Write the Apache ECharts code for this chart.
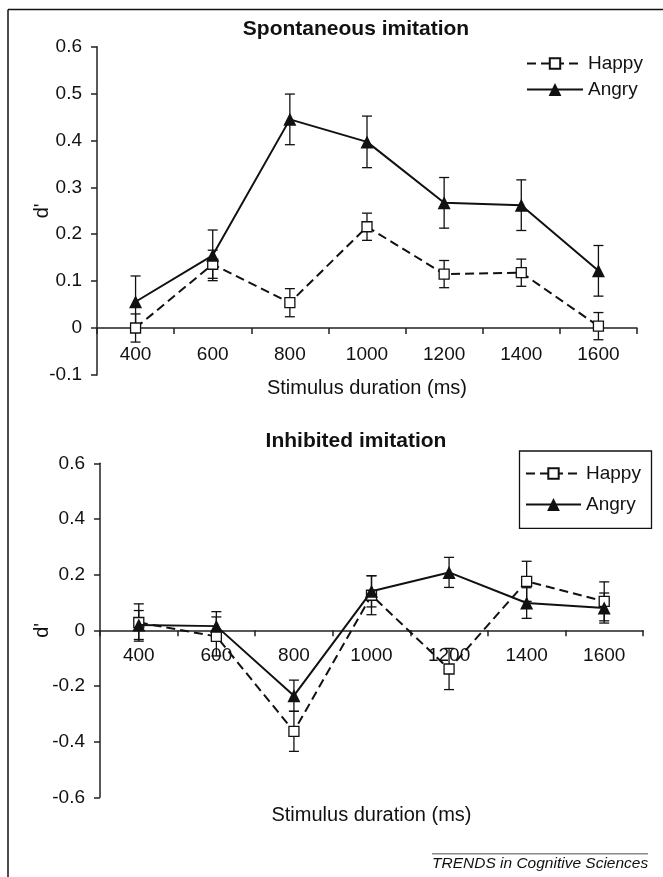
<!DOCTYPE html>
<html>
<head>
<meta charset="utf-8">
<script src="https://cdn.jsdelivr.net/npm/echarts@6/dist/echarts.min.js"></script>
<style>
html,body{margin:0;padding:0;background:#fff;}
#chart{width:663px;height:877px;}
</style>
</head>
<body>
<div id="chart"></div>
<script>
const categories = ['400', '600', '800', '1000', '1200', '1400', '1600'];

const spontHappy    = [0.000, 0.136, 0.054, 0.216, 0.115, 0.118, 0.004];
const spontHappyErr = [0.030, 0.030, 0.030, 0.029, 0.029, 0.029, 0.029];
const spontAngry    = [0.056, 0.155, 0.445, 0.397, 0.267, 0.262, 0.122];
const spontAngryErr = [0.055, 0.054, 0.054, 0.055, 0.054, 0.054, 0.054];

const inhibHappy    = [0.028, -0.022, -0.363, 0.126, -0.139, 0.176, 0.104];
const inhibHappyErr = [0.067, 0.070, 0.072, 0.070, 0.074, 0.072, 0.070];
const inhibAngry    = [0.019, 0.015, -0.235, 0.140, 0.208, 0.098, 0.080];
const inhibAngryErr = [0.052, 0.052, 0.056, 0.056, 0.054, 0.055, 0.054];

const titles = ['Spontaneous imitation', 'Inhibited imitation'];
const xName = 'Stimulus duration (ms)';
const yName = "d'";
const seriesNames = ['Happy', 'Angry'];

const FONT = '"Liberation Sans", Arial, Helvetica, sans-serif';
const INK = '#111';

function errData(vals, errs) {
  return vals.map((v, i) => [i, v - errs[i], v + errs[i]]);
}
function errRender(params, api) {
  const x = api.value(0);
  const lo = api.coord([x, api.value(1)]);
  const hi = api.coord([x, api.value(2)]);
  const w = 5;
  const st = { stroke: INK, lineWidth: 1.3, fill: null };
  return {
    type: 'group',
    children: [
      { type: 'line', shape: { x1: lo[0], y1: lo[1], x2: hi[0], y2: hi[1] }, style: st },
      { type: 'line', shape: { x1: lo[0] - w, y1: lo[1], x2: lo[0] + w, y2: lo[1] }, style: st },
      { type: 'line', shape: { x1: hi[0] - w, y1: hi[1], x2: hi[0] + w, y2: hi[1] }, style: st }
    ]
  };
}

const axisLineStyle = { color: '#222', width: 1.5 };
const labelStyle = { color: INK, fontSize: 19, fontFamily: FONT };

function xAxisDef(gridIndex, margin, nameGap) {
  return {
    type: 'category', gridIndex, data: categories, boundaryGap: true,
    axisLine: { onZero: true, lineStyle: axisLineStyle },
    axisTick: { show: true, inside: false, length: 6, lineStyle: axisLineStyle, alignWithLabel: false },
    axisLabel: Object.assign({ margin, interval: 0 }, labelStyle),
    splitLine: { show: false },
    name: xName, nameLocation: 'middle', nameGap, nameMoveOverlap: false,
    nameTextStyle: { color: INK, fontSize: 20, fontFamily: FONT }
  };
}
function yAxisDef(gridIndex, min, max, interval, nameGap) {
  return {
    type: 'value', gridIndex, min, max, interval,
    axisLine: { show: true, lineStyle: axisLineStyle },
    axisTick: { show: true, inside: false, length: 6, lineStyle: axisLineStyle },
    axisLabel: Object.assign({ margin: 15 }, labelStyle),
    splitLine: { show: false },
    name: yName, nameLocation: 'middle', nameGap, nameRotate: 90, nameMoveOverlap: false,
    nameTextStyle: { color: INK, fontSize: 20, fontFamily: FONT }
  };
}

function happySeries(idx, data) {
  return {
    name: seriesNames[0], type: 'line', xAxisIndex: idx, yAxisIndex: idx, data,
    symbol: 'rect', symbolSize: 10, z: 3,
    lineStyle: { color: INK, width: 2, type: [9, 5] },
    itemStyle: { color: '#fff', borderColor: INK, borderWidth: 1.3 }
  };
}
function angrySeries(idx, data) {
  return {
    name: seriesNames[1], type: 'line', xAxisIndex: idx, yAxisIndex: idx, data,
    symbol: 'triangle', symbolSize: 13, z: 4,
    lineStyle: { color: INK, width: 2, type: 'solid' },
    itemStyle: { color: INK, borderColor: INK, borderWidth: 0 }
  };
}
function errSeries(idx, vals, errs) {
  return {
    name: 'err', type: 'custom', xAxisIndex: idx, yAxisIndex: idx,
    data: errData(vals, errs), renderItem: errRender, z: 2,
    encode: { x: 0, y: [1, 2] }, silent: true
  };
}
function legendDef(name, left, top, w, h) {
  return {
    data: [name], left, top, orient: 'vertical', itemWidth: w, itemHeight: h,
    itemGap: 0, padding: 0, selectedMode: false,
    textStyle: { color: INK, fontSize: 19, fontFamily: FONT }
  };
}

const chart = echarts.init(document.getElementById('chart'), null, { renderer: 'canvas' });
chart.setOption({
  animation: false,
  backgroundColor: '#fff',
  title: [
    { text: titles[0], left: 356, top: 19, textAlign: 'center', padding: 0,
      textStyle: { color: INK, fontSize: 21, fontWeight: 'bold', fontFamily: FONT } },
    { text: titles[1], left: 356, top: 431, textAlign: 'center', padding: 0,
      textStyle: { color: INK, fontSize: 21, fontWeight: 'bold', fontFamily: FONT } }
  ],
  legend: [
    legendDef('Happy', 526, 54, 56, 13),
    legendDef('Angry', 526, 80, 56, 16),
    legendDef('Happy', 525, 464, 55, 13),
    legendDef('Angry', 525, 495, 55, 16)
  ],
  grid: [
    { left: 97, top: 46.7, width: 540, height: 328.2, containLabel: false, outerBoundsMode: 'none' },
    { left: 100, top: 463.3, width: 543, height: 334, containLabel: false, outerBoundsMode: 'none' }
  ],
  xAxis: [xAxisDef(0, 17 - 46.9, 4), xAxisDef(1, 16 - 166.6, 8)],
  yAxis: [yAxisDef(0, -0.1, 0.6, 0.1, 45), yAxisDef(1, -0.6, 0.6, 0.2, 48)],
  series: [
    errSeries(0, spontHappy, spontHappyErr),
    errSeries(0, spontAngry, spontAngryErr),
    happySeries(0, spontHappy),
    angrySeries(0, spontAngry),
    errSeries(1, inhibHappy, inhibHappyErr),
    errSeries(1, inhibAngry, inhibAngryErr),
    happySeries(1, inhibHappy),
    angrySeries(1, inhibAngry)
  ],
  graphic: [
    { type: 'line', shape: { x1: 8, y1: 9.5, x2: 663, y2: 9.5 }, style: { stroke: INK, lineWidth: 1.5 } },
    { type: 'line', shape: { x1: 8, y1: 9.5, x2: 8, y2: 877 }, style: { stroke: INK, lineWidth: 1.5 } },
    { type: 'rect', shape: { x: 519.5, y: 451, width: 132, height: 77.3 }, style: { stroke: INK, lineWidth: 1.3, fill: null } },
    { type: 'line', shape: { x1: 432, y1: 853.7, x2: 648, y2: 853.7 }, style: { stroke: '#888', lineWidth: 1.5 } },
    { type: 'text', left: 432, top: 856, style: { text: 'TRENDS in Cognitive Sciences', fill: INK, font: 'italic 15.5px ' + FONT } }
  ]
});
</script>
</body>
</html>
